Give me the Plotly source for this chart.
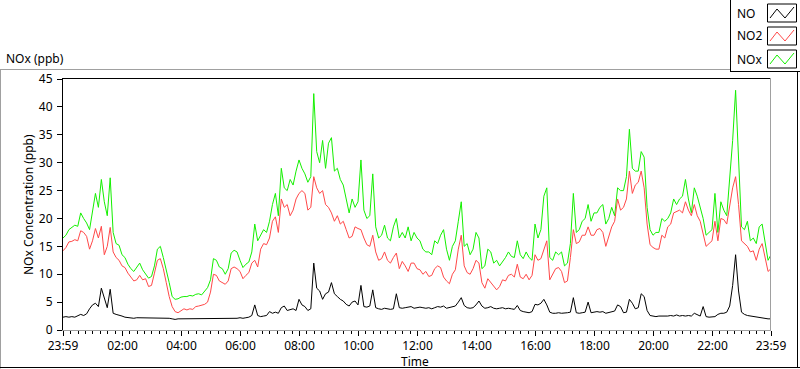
import plotly.graph_objects as go

# ---------------- data (one sample every 6 minutes from 23:59) -------------
sample_step_min = 6

no_ppb = [
    2.3, 2.4, 2.3, 2.4, 2.3, 2.5, 2.8, 2.6, 2.9, 3.8,
    4.5, 4.8, 4.2, 7.5, 5.5, 4.0, 7.3, 3.0, 2.8, 2.7,
    2.5, 2.3, 2.2, 2.2, 2.1, 2.2, 2.2, 2.1, 2.1, 2.1,
    2.1, 2.1, 2.2, 2.1, 2.1, 2.1, 2.1, 2.0, 1.9, 2.0,
    2.0, 2.0,
    2.0, 2.0, 2.0, 2.0, 2.0, 2.0, 2.0, 2.1,
    2.0, 2.0, 2.1, 2.1, 2.0, 2.1, 2.1, 2.0, 2.1, 2.1,
    2.2, 2.1, 2.2, 2.3, 2.6, 4.5, 2.6, 2.4, 2.5, 2.6,
    3.3, 3.0, 3.2, 3.0, 4.0, 4.3, 3.5, 3.6, 3.8, 3.5,
    5.5, 4.5, 4.2,
    3.5, 3.8, 12.0, 7.5, 7.0, 5.5, 6.5,
    6.8, 8.5, 6.5, 6.0, 5.5, 5.2, 4.6, 4.3, 5.0, 5.2,
    4.5, 8.0, 4.2, 4.1, 4.3, 7.2, 4.0, 3.8, 3.7, 3.9,
    3.8, 3.7, 3.8, 6.5, 4.0, 3.9, 4.0, 4.1, 4.2, 3.9,
    4.0, 4.1, 4.0, 3.9,
    4.0, 3.8, 4.0, 4.2, 4.1, 4.3,
    3.9, 4.0, 4.2, 4.3, 5.0, 5.8, 4.4, 4.0, 3.9, 4.0,
    4.5, 5.2, 4.3, 3.9, 4.0, 4.2, 3.9, 3.8, 3.9, 4.0,
    3.8, 3.9, 3.8, 3.7, 4.4, 3.5, 3.3, 3.2, 3.1, 3.3,
    4.6, 4.5, 4.8, 5.5,
    4.5, 3.2, 3.0, 3.0, 3.1, 3.0,
    3.0, 3.1, 3.2, 5.8, 3.1, 3.0, 3.1, 3.2, 5.0, 3.1,
    3.2, 3.3, 3.2, 3.3, 3.0, 3.1, 3.2, 3.4, 4.5, 4.2,
    3.1, 3.2, 5.5, 4.8, 3.8, 4.0, 6.5, 6.0, 3.5, 2.6,
    2.5, 2.4, 2.5, 2.5, 2.4,
    2.5, 2.6, 2.5, 2.7, 2.5,
    2.6, 2.5, 2.6, 2.5, 3.0, 2.8, 2.5, 4.2, 2.4, 2.3,
    2.4, 2.4, 2.8, 3.0, 3.0, 3.2, 4.3, 8.0, 13.5, 7.0,
    3.2, 2.8, 2.6, 2.5, 2.5, 2.4, 2.3, 2.2, 2.1, 2.0, 2.0,
]

no2_ppb = [
    14.2, 14.8, 15.8, 15.9, 16.2, 16.0, 17.8, 17.5, 16.8, 14.5,
    16.0, 18.2, 16.5, 18.6, 13.5, 15.0, 18.4, 14.0, 13.0, 12.5,
    11.5, 11.2, 10.2, 9.5, 8.8, 9.0, 9.8, 9.0, 9.2, 7.8,
    8.0, 10.2, 12.5, 12.8, 11.0, 8.5, 6.0, 4.2, 3.3, 3.1,
    3.4, 3.8,
    3.6, 3.8, 3.7, 4.2, 4.3, 4.5, 4.6, 5.0,
    6.8, 10.0, 9.8, 8.8, 8.5, 8.2, 8.8, 11.0, 11.3, 11.0,
    10.5, 9.2, 9.8, 10.3, 12.0, 12.5, 11.3, 14.5, 15.5, 15.3,
    16.5, 19.5, 20.3, 17.5, 23.5, 22.0, 22.5, 20.5, 21.5, 23.5,
    24.5, 25.0, 24.5,
    21.5, 22.0, 27.5, 25.5, 24.5, 25.0, 22.5,
    22.0, 21.0, 19.5, 20.5, 19.0, 19.5, 18.0, 16.5, 16.8, 18.5,
    18.2, 18.0, 16.5, 15.3, 15.0, 17.0, 14.0, 12.5, 12.8, 14.0,
    12.5, 12.0, 13.0, 13.8, 11.0, 12.3, 11.5, 10.5, 12.0, 12.0,
    11.0, 10.8, 10.0, 10.5,
    9.6, 9.8, 11.0, 11.5, 11.2, 9.5,
    8.8, 8.3, 10.0, 10.8, 14.5, 17.0, 11.5, 10.3, 10.0, 11.0,
    12.5, 12.0, 8.5, 7.5, 9.2, 8.5, 7.8, 7.2, 7.8, 9.0,
    8.8, 9.8, 10.0, 9.5, 11.8, 9.5, 9.2, 10.0, 9.0, 9.8,
    13.5, 12.5, 12.8, 14.5,
    16.0, 9.0, 10.0, 11.0, 11.2, 10.5,
    8.5, 8.8, 13.0, 18.0, 15.5, 15.8, 17.0, 17.0, 18.5, 17.0,
    17.0, 18.0, 18.2, 17.5, 15.0, 17.0, 18.5, 19.5, 23.5, 21.5,
    22.0, 23.5, 28.5, 24.5, 26.0, 26.5, 28.5, 25.5, 19.0, 15.3,
    14.8, 14.5, 14.5, 17.0, 16.5,
    18.5, 19.0, 21.0, 21.2, 21.5,
    21.0, 23.0, 21.5, 20.5, 22.5, 20.5, 19.5, 17.0, 15.0, 15.5,
    16.0, 19.5, 16.0, 20.0, 19.8, 19.0, 22.5, 25.5, 27.5, 22.5,
    16.0, 15.5, 15.0, 14.0, 14.2, 12.5, 14.5, 15.5, 13.0, 10.5, 11.0,
]

nox_ppb = [
    16.5, 17.0, 18.0, 18.4, 18.8, 18.6, 21.0, 20.0, 19.2, 18.0,
    21.5, 24.5, 22.0, 27.0, 23.0, 20.5, 27.3, 17.5, 15.5, 15.2,
    13.5, 13.0, 11.8, 11.0, 10.5, 11.2, 12.0, 10.8, 10.0, 9.3,
    9.6, 11.5, 14.5, 15.0, 13.0, 11.0, 8.5, 6.0, 5.5, 5.6,
    5.9, 6.0,
    6.0, 6.2, 6.1, 6.4, 6.5, 6.3, 6.9, 7.6,
    9.0, 12.8, 12.5, 11.3, 11.0, 10.0, 11.0, 13.8, 14.3, 14.0,
    12.5, 11.2, 11.8, 12.2, 14.0, 19.0, 16.0, 17.0, 18.0, 17.5,
    19.5, 22.5, 24.5, 20.5, 29.0, 25.5, 25.0, 27.0, 26.0, 28.5,
    30.5, 29.0, 28.0,
    26.5, 27.5, 42.4, 32.0, 30.0, 34.0, 29.0,
    33.5, 34.5, 28.5, 29.0, 27.0, 26.0, 23.5, 21.0, 23.5, 22.0,
    23.0, 30.5, 21.5, 20.0, 20.5, 28.0, 18.5, 16.5, 17.0, 18.8,
    16.5, 16.0, 18.5, 20.0, 16.5, 17.5, 16.5, 18.5, 16.0, 17.5,
    16.5, 16.0, 14.5, 14.0,
    14.0, 13.5, 16.0, 15.5, 17.0, 18.0,
    14.5, 12.5, 15.0, 16.0, 19.5, 23.0, 15.0, 15.5, 13.5, 14.5,
    17.5, 16.5, 11.0, 11.5, 14.5, 14.0, 12.0, 12.5, 11.5, 12.2,
    13.0, 14.0, 13.2, 13.0, 16.0, 13.5, 12.8, 14.0, 13.0, 12.5,
    19.0, 16.5, 18.0, 24.0,
    25.5, 13.0, 12.5, 14.0, 13.5, 14.0,
    11.5, 12.0, 15.5, 24.5, 17.5, 18.0, 19.5, 20.0, 22.5, 19.5,
    21.0, 21.0, 22.0, 22.5, 19.0, 20.0, 22.0, 20.5, 25.5, 25.0,
    25.0, 27.5, 36.0, 29.0, 28.5, 28.5, 32.0, 31.0, 22.0, 18.0,
    17.0, 17.5, 17.5, 20.0, 19.5,
    20.0, 21.0, 23.5, 22.5, 23.5,
    24.0, 27.0, 23.5, 21.0, 25.5, 24.0, 22.0, 20.0, 17.0, 17.5,
    18.0, 24.5, 17.5, 23.0, 21.5, 20.5, 26.5, 34.0, 43.0, 29.0,
    18.5, 18.0, 19.5, 16.0, 16.5, 15.5, 18.5, 19.0, 16.0, 12.5, 13.5,
]

series_names = ["NO", "NO2", "NOx"]
x_tick_labels = ["23:59", "02:00", "04:00", "06:00", "08:00", "10:00", "12:00",
                 "14:00", "16:00", "18:00", "20:00", "22:00", "23:59"]
y_tick_values = [0, 5, 10, 15, 20, 25, 30, 35, 40, 45]

assert len(no_ppb) == len(no2_ppb) == len(nox_ppb) == 241, (len(no_ppb), len(no2_ppb), len(nox_ppb))

# ---------------- helpers -------------
START_CLOCK = 23 * 60 + 59
DAY = 24 * 60


def minutes_since_start(label, last=False):
    h, m = map(int, label.split(":"))
    v = (h * 60 + m - START_CLOCK) % DAY
    return DAY if (last and v == 0) else v


t_min = [i * sample_step_min for i in range(len(no_ppb))]
x_tick_vals = [minutes_since_start(l, i == len(x_tick_labels) - 1) for i, l in enumerate(x_tick_labels)]
minor_vals = []
for clk in range(15, DAY, 15):
    v = (clk - START_CLOCK) % DAY
    if v not in x_tick_vals:
        minor_vals.append(v)

W, H = 800, 369
L, R, T, B = 63, 771, 78, 330   # plot area in pixels


def px(x):
    return (x - L) / (R - L)


def py(y):
    return (B - y) / (B - T)


FONT = "Noto Sans"
colors = {"NO": "#000000", "NO2": "#ff4848", "NOx": "#14f000"}

fig = go.Figure()
for name, vals in [("NOx", nox_ppb), ("NO2", no2_ppb), ("NO", no_ppb)]:
    fig.add_trace(go.Scatter(x=t_min, y=vals, mode="lines", name=name,
                             line=dict(color=colors[name], width=1), showlegend=False,
                             hoverinfo="skip"))

shapes = []


def line(x0, y0, x1, y1, color):
    shapes.append(dict(type="line", xref="paper", yref="paper",
                       x0=px(x0), y0=py(y0), x1=px(x1), y1=py(y1),
                       line=dict(color=color, width=1), layer="above"))


# plot frame: top black, right gray
line(L, T + 0.5, R, T + 0.5, "#000000")
line(R - 0.5, T, R - 0.5, B, "#a0a0a0")
# outer frame
line(0, 69.5, 730, 69.5, "#a0a0a0")
line(0.5, 69.5, 0.5, 368.5, "#a0a0a0")
line(0, 367.5, 800, 367.5, "#000000")
line(797.5, 71, 797.5, 368, "#000000")
# legend box
line(730.5, 0, 730.5, 71.5, "#000000")
line(730, 71.5, 800, 71.5, "#000000")

txt_font = dict(family=FONT, size=12, color="#000")
annotations = [
    dict(text="NOx (ppb)", xref="paper", yref="paper", x=px(4), y=py(58),
         xanchor="left", yanchor="middle", showarrow=False, font=txt_font),
    dict(text="Time", xref="paper", yref="paper", x=px(415), y=py(361),
         xanchor="center", yanchor="middle", showarrow=False, font=txt_font),
    dict(text="NOx Concentration (ppb)", xref="paper", yref="paper", x=px(28), y=py(205),
         xanchor="center", yanchor="middle", showarrow=False, textangle=-90, font=txt_font),
]

# custom legend: name on the left, boxed swatch on the right
for k, name in enumerate(series_names):
    top = 4 + 23 * k
    annotations.append(dict(text=name, xref="paper", yref="paper", x=px(735), y=py(top + 9),
                            xanchor="left", yanchor="middle", showarrow=False, font=txt_font))
    shapes.append(dict(type="rect", xref="paper", yref="paper",
                       x0=px(767.5), x1=px(796.5), y0=py(top), y1=py(top + 18),
                       line=dict(color="#000000", width=1), fillcolor="white", layer="above"))
    pts = [(770, top + 14), (777, top + 5), (785, top + 14), (794, top + 3)]
    path = "M " + " L ".join(f"{px(a)},{py(b)}" for a, b in pts)
    shapes.append(dict(type="path", xref="paper", yref="paper", path=path,
                       line=dict(color=colors[name], width=1), layer="above"))

fig.update_layout(
    width=W, height=H,
    margin=dict(l=L, r=W - R, t=T, b=H - B, pad=0, autoexpand=False),
    paper_bgcolor="white", plot_bgcolor="white",
    font=txt_font,
    showlegend=False,
    shapes=shapes,
    annotations=annotations,
    xaxis=dict(
        range=[0, DAY], tickmode="array", tickvals=x_tick_vals, ticktext=x_tick_labels,
        showgrid=False, zeroline=False, showline=True, linecolor="#a0a0a0", linewidth=1,
        ticks="outside", ticklen=5, tickwidth=1, tickcolor="#000",
        minor=dict(tickmode="array", tickvals=minor_vals, ticks="outside", ticklen=3,
                   tickwidth=1, tickcolor="#000", showgrid=False),
        tickfont=txt_font, ticklabelstandoff=0, automargin=False,
    ),
    yaxis=dict(
        range=[0, 45.2], tickmode="array", tickvals=y_tick_values,
        showgrid=False, zeroline=False, showline=True, linecolor="#000", linewidth=1,
        ticks="outside", ticklen=5, tickwidth=1, tickcolor="#000",
        tickfont=txt_font, ticklabelstandoff=2, automargin=False,
    ),
)

fig.write_html("out.html", config={"displayModeBar": False, "staticPlot": True},
               post_script="document.body.style.margin='0';document.body.style.overflow='hidden';")
